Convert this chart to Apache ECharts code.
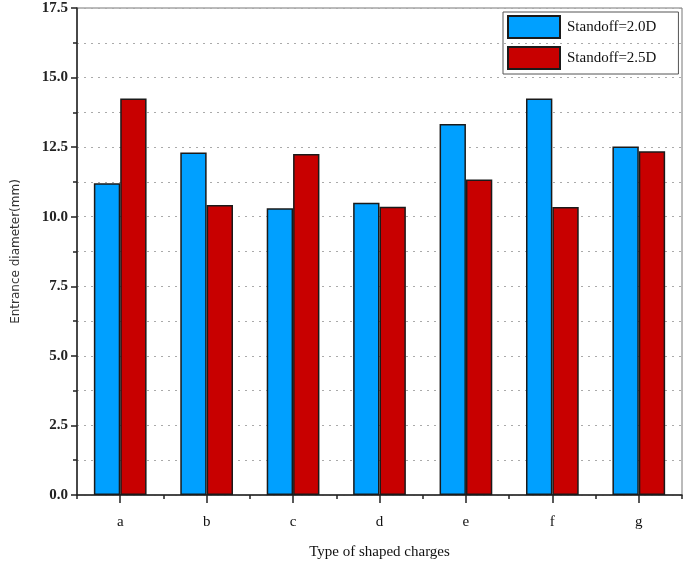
<!DOCTYPE html>
<html>
<head>
<meta charset="utf-8">
<script src="https://cdn.jsdelivr.net/npm/echarts@6/dist/echarts.min.js"></script>
<style>html,body{margin:0;padding:0;background:#fff}#c{width:685px;height:563px}</style>
</head>
<body>
<div id="c"></div>
<script>
var categories = ['a', 'b', 'c', 'd', 'e', 'f', 'g'];
var standoff20 = [11.2, 12.31, 10.3, 10.5, 13.33, 14.25, 12.52];
var standoff25 = [14.25, 10.42, 12.25, 10.36, 11.34, 10.35, 12.35];
var seriesNames = ['Standoff=2.0D', 'Standoff=2.5D'];
var yTicks = { min: 0, max: 17.5, interval: 2.5 };

var serif = '"Liberation Serif", "DejaVu Serif", serif';
var chart = echarts.init(document.getElementById('c'));
chart.setOption({
  animation: false,
  backgroundColor: '#fff',
  grid: { left: 77, right: 3, top: 8, bottom: 68, containLabel: false, outerBoundsMode: 'none',
          show: true, borderColor: '#777', borderWidth: 1 },
  legend: {
    orient: 'vertical', left: 503, top: 12,
    icon: 'rect',
    itemWidth: 52, itemHeight: 22, itemGap: 7,
    padding: [3, 22, 4, 4],
    borderColor: '#555', borderWidth: 1,
    textStyle: { fontFamily: serif, fontSize: 15, color: '#111', padding: [2, 0, 0, 2] },
    data: seriesNames
  },
  xAxis: [{
    type: 'category', data: categories, position: 'bottom',
    name: 'Type of shaped charges', nameLocation: 'middle', nameGap: 50,
    nameTextStyle: { fontFamily: serif, fontSize: 15, color: '#111' },
    axisLine: { lineStyle: { color: '#222', width: 1.5 } },
    axisTick: { show: true, alignWithLabel: true, length: 8, lineStyle: { color: '#222', width: 1.5 } },
    axisLabel: { fontFamily: serif, fontSize: 15, color: '#111', margin: 20 },
    splitLine: { show: false }
  }, {
    type: 'category', data: categories, position: 'bottom',
    axisLine: { show: false },
    axisTick: { show: true, length: 4, lineStyle: { color: '#222', width: 1.5 } },
    axisLabel: { show: false },
    splitLine: { show: false }
  }],
  yAxis: {
    type: 'value', min: yTicks.min, max: yTicks.max, interval: yTicks.interval,
    name: 'Entrance diameter(mm)', nameLocation: 'middle', nameGap: 55,
    nameTextStyle: { fontFamily: '"DejaVu Sans", sans-serif', fontSize: 12, color: '#333' },
    axisLine: { show: true, lineStyle: { color: '#222', width: 1.5 } },
    axisTick: { show: true, length: 6, lineStyle: { color: '#222', width: 1.5 } },
    minorTick: { show: true, splitNumber: 2, length: 4, lineStyle: { color: '#222', width: 1.5 } },
    axisLabel: {
      fontFamily: serif, fontSize: 15, fontWeight: 'bold', color: '#222', margin: 9,
      formatter: function (v) { return v.toFixed(1); }
    },
    splitLine: { show: true, lineStyle: { color: '#aaa', type: [2, 5], width: 1.2 } },
    minorSplitLine: { show: true, lineStyle: { color: '#aaa', type: [2, 5], width: 1.2 } }
  },
  series: [{
    name: seriesNames[0], type: 'bar', data: standoff20, xAxisIndex: 0,
    barGap: '0%', barCategoryGap: '39%',
    itemStyle: { color: '#00A0FF', borderColor: '#1a1a1a', borderWidth: 1.5 }
  }, {
    name: seriesNames[1], type: 'bar', data: standoff25, xAxisIndex: 0,
    barGap: '0%', barCategoryGap: '39%',
    itemStyle: { color: '#C80000', borderColor: '#1a1a1a', borderWidth: 1.5 }
  }]
});
</script>
</body>
</html>
